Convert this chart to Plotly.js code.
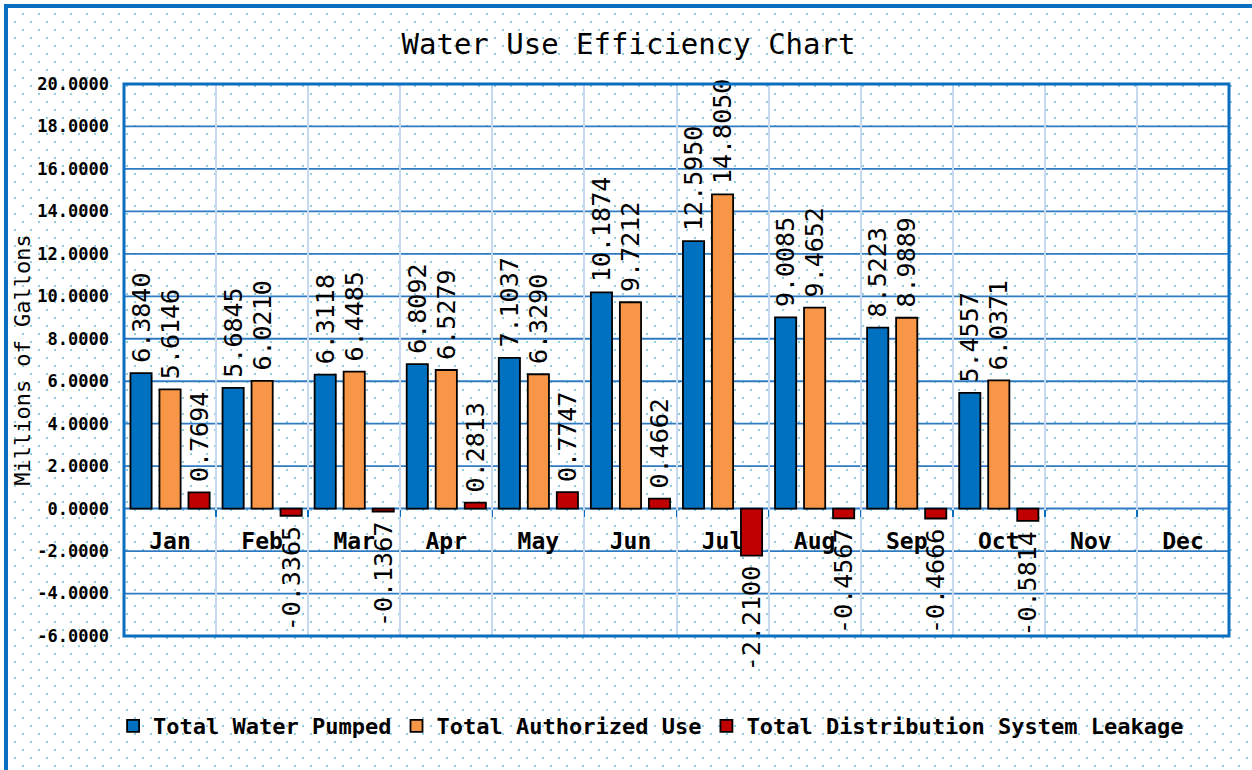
<!DOCTYPE html>
<html>
<head>
<meta charset="utf-8">
<script src="https://cdn.plot.ly/plotly-3.0.1.min.js"></script>
<style>
  html, body { margin: 0; padding: 0; }
  body {
    width: 1252px; height: 770px; overflow: hidden; position: relative;
    background-color: #ffffff;
    background-image: url("data:image/svg+xml;utf8,<svg xmlns='http://www.w3.org/2000/svg' width='16' height='16'><rect x='6' y='13' width='2' height='2' fill='%2393cddd'/><rect x='14' y='5' width='2' height='2' fill='%2393cddd'/></svg>");
  }
  #frame { position: absolute; left: 4px; top: 4px; width: 1244px; height: 800px;
    border-left: 4px solid #0a6fc0; border-top: 4px solid #0a6fc0; border-right: 1px solid #c9d6e3; }
  #chart { position: absolute; left: 0; top: 0; width: 1252px; height: 770px; }
</style>
</head>
<body>
<div id="frame"></div>
<div id="chart"></div>
<script>
const months = ["Jan","Feb","Mar","Apr","May","Jun","Jul","Aug","Sep","Oct","Nov","Dec"];
const waterPumped   = [6.3840, 5.6845, 6.3118, 6.8092, 7.1037, 10.1874, 12.5950, 9.0085, 8.5223, 5.4557, null, null];
const authorizedUse = [5.6146, 6.0210, 6.4485, 6.5279, 6.3290, 9.7212, 14.8050, 9.4652, 8.9889, 6.0371, null, null];
const leakage       = [0.7694, -0.3365, -0.1367, 0.2813, 0.7747, 0.4662, -2.2100, -0.4567, -0.4666, -0.5814, null, null];
const yTickVals = [-6, -4, -2, 0, 2, 4, 6, 8, 10, 12, 14, 16, 18, 20];
const yTickText = ["-6.0000","-4.0000","-2.0000","0.0000","2.0000","4.0000","6.0000","8.0000","10.0000","12.0000","14.0000","16.0000","18.0000","20.0000"];
const seriesNames = ["Total Water Pumped","Total Authorized Use","Total Distribution System Leakage"];
const seriesColors = ["#0070c0","#f79646","#c00000"];

const MONO = "DejaVu Sans Mono, monospace";
const GRID = "#2e7bc4";
const GAP = '<span style="font-size:12px">\u00a0</span>';
const fmt = arr => arr.map(v => v === null ? "" : (v >= 0 ? GAP + v.toFixed(4) : v.toFixed(4) + GAP));

const traces = [waterPumped, authorizedUse, leakage].map((vals, i) => ({
  type: "bar",
  name: seriesNames[i],
  x: months,
  y: vals,
  text: fmt(vals),
  textposition: "outside",
  textangle: -90,
  constraintext: "none",
  cliponaxis: false,
  textfont: { family: MONO, size: 25, color: "#000" },
  marker: { color: seriesColors[i], line: { color: "#000", width: 1.8 } },
  hoverinfo: "x+y+name"
}));

const yMin = -6, yMax = 20;
const gridShapes = yTickVals.map(v => ({
  type: "line", xref: "paper", x0: 0, x1: 1, yref: "y", y0: v, y1: v,
  layer: "below", line: { color: GRID, width: v === 0 ? 2 : 1.8 }
}));

const layout = {
  width: 1252, height: 770,
  margin: { l: 124, r: 23, t: 84, b: 134 },
  paper_bgcolor: "rgba(0,0,0,0)",
  plot_bgcolor: "rgba(0,0,0,0)",
  barmode: "group",
  bargap: 0.055,
  bargroupgap: 0.27,
  title: {
    text: "Water Use Efficiency Chart",
    font: { family: MONO, size: 29, color: "#000" },
    xref: "container", x: 0.502, yref: "container", y: 0.943, yanchor: "middle"
  },
  xaxis: {
    type: "category",
    anchor: "free",
    position: (0 - yMin) / (yMax - yMin),
    tickson: "boundaries",
    showgrid: true, gridcolor: "#c6d9f1", gridwidth: 2,
    showline: false, zeroline: false,
    ticks: "outside", ticklen: 7, tickcolor: "#0a6fc0", tickwidth: 1.5,
    ticklabelstandoff: 16,
    tickfont: { family: MONO, size: 23, color: "#000", weight: "bold" },
    fixedrange: true
  },
  yaxis: {
    range: [yMin, yMax],
    tickmode: "array", tickvals: yTickVals, ticktext: yTickText,
    showgrid: false, showline: false, zeroline: false,
    ticks: "", ticklabelstandoff: 14,
    tickfont: { family: MONO, size: 17, color: "#000", weight: "bold" },
    title: { text: "Millions of Gallons", font: { family: MONO, size: 22, color: "#000" }, standoff: 0 },
    fixedrange: true
  },
  showlegend: true,
  legend: {
    orientation: "h",
    x: 0.477, xanchor: "center",
    y: -0.125, yanchor: "top",
    font: { family: MONO, size: 22, color: "#000", weight: "bold" },
    bgcolor: "rgba(0,0,0,0)", borderwidth: 0,
    itemwidth: 30,
    traceorder: "normal"
  },
  shapes: gridShapes.concat([{
    type: "rect", xref: "paper", yref: "paper", x0: 0, x1: 1, y0: 0, y1: 1,
    line: { color: "#0a6fc0", width: 3 }, fillcolor: "rgba(0,0,0,0)"
  }])
};

Plotly.newPlot("chart", traces, layout, { displayModeBar: false, staticPlot: true });
</script>
</body>
</html>
